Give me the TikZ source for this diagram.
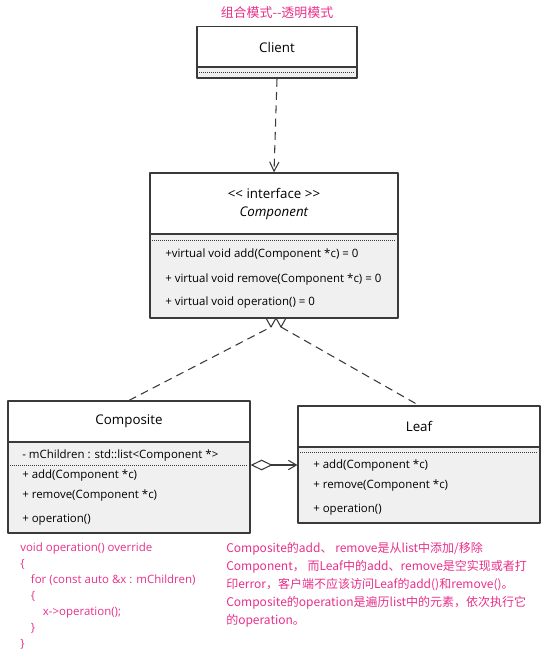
\documentclass[tikz,border=0pt]{standalone}
\usepackage{fontspec}
\setmainfont{Open Sans}
\newfontfamily\cjk{Noto Sans CJK SC}
\usetikzlibrary{arrows.meta}
\definecolor{notepink}{HTML}{E8308A}
\definecolor{boxgray}{HTML}{F0F0F0}
\definecolor{boxline}{HTML}{3A3A3A}

\begin{document}
\begin{tikzpicture}[x=0.75pt,y=-0.75pt,line join=round,
	umlbox/.style args={#1x#2}{draw=boxline,line width=0.9pt,inner sep=0pt,
		minimum width=#1*0.75pt,minimum height=#2*0.75pt,font=\fontsize{10}{13.5}\selectfont},
	head/.style={umlbox=#1,fill=white},
	body/.style={umlbox=#1,fill=boxgray},
	op/.style={anchor=west,inner sep=0pt,yshift=-1.5pt,font=\fontsize{8.6}{10}\selectfont},
	sep/.style={densely dotted,line width=0.5pt,draw=boxline},
	depend/.style={draw=boxline,line width=0.8pt,dash pattern=on 6pt off 4pt,
		-{Straight Barb[length=7pt,width=7pt]}},
	realize/.style={draw=boxline,line width=0.8pt,dash pattern=on 6pt off 4pt},
	aggr/.style={draw=boxline,line width=0.8pt,
		{Diamond[open,length=16.5pt,width=8pt]}-{Straight Barb[length=6pt,width=7pt]}},
	pinktext/.style={text=notepink,inner sep=0pt,align=left}]

\useasboundingbox (0,0) rectangle (546,658);

\node[pinktext,font=\cjk\fontsize{9.7}{12}\selectfont] (title) at (277,13) {组合模式-{}-透明模式};

% Client
\node[head=160x41] (clienthead) at (277,47) {Client};
\node[body=160x11] (clientbody) at (277,72.5) {};
\draw[sep] (199,72) -- (355,72);

% Component
\node[head=248x61,align=center] (comphead) at (274,203.5)
	{<{}< interface >{}>\\\textit{Component}};
\node[body=248x84] (compbody) at (274,276) {};
\draw[sep] (152,240) -- (396,240);
\foreach \y/\t [count=\i] in {253/{+virtual void add(Component *c) = 0},
	278/{+ virtual void remove(Component *c) = 0},
	301/{+ virtual void operation() = 0}}
	\node[op] (compop\i) at (165,\y) {\t};

% Composite
\node[head=242x41] (cmphead) at (129,421.5) {Composite};
\node[body=242x91] (cmpbody) at (129,487.5) {};
\node[op] (cmpattr) at (22,454) {- mChildren : std::list<Component *>};
\draw[sep] (10,465) -- (248,465);
\foreach \y/\t [count=\i] in {474/{+ add(Component *c)},
	494/{+ remove(Component *c)},518/{+ operation()}}
	\node[op] (cmpop\i) at (22,\y) {\t};

% Leaf
\node[head=242x41] (leafhead) at (419,426.5) {Leaf};
\node[body=242x76] (leafbody) at (419,485) {};
\draw[sep] (300,452) -- (538,452);
\foreach \y/\t [count=\i] in {464/{+ add(Component *c)},
	484/{+ remove(Component *c)},508/{+ operation()}}
	\node[op] (leafop\i) at (313,\y) {\t};

% connectors
\draw[depend] (clientbody.south) -- (comphead.north);

\coordinate (vl) at (271,327);
\coordinate (vr) at (281,327);
\draw[realize] (cmphead.north) -- (vl);
\draw[realize] (vr) -- (leafhead.north);
\draw[draw=boxline,line width=0.8pt] (vl) +(-5,-9) -- (vl) -- +(5,-9);
\draw[draw=boxline,line width=0.8pt] (vr) +(-5,-9) -- (vr) -- +(5,-9);

\coordinate (aggy) at (0,465);
\draw[aggr] (cmpbody.east |- aggy) -- (leafbody.west |- aggy);

% notes
\node[pinktext,anchor=north west,font=\fontsize{8.6}{12}\selectfont] (code) at (20,543)
	{void operation() override\\
	\{\\
	\hspace*{8pt}for (const auto \&x : mChildren)\\
	\hspace*{8pt}\{\\
	\hspace*{17pt}x->operation();\\
	\hspace*{8pt}\}\\
	\}};

\node[pinktext,anchor=north west,font=\cjk\fontsize{9}{13.5}\selectfont] (note) at (226,542)
	{Composite的add、 remove是从list中添加/移除\\
	Component， 而Leaf中的add、remove是空实现或者打\\
	印error，客户端不应该访问Leaf的add()和remove()。\\
	Composite的operation是遍历list中的元素，依次执行它\\
	的operation。};

\end{tikzpicture}
\end{document}
